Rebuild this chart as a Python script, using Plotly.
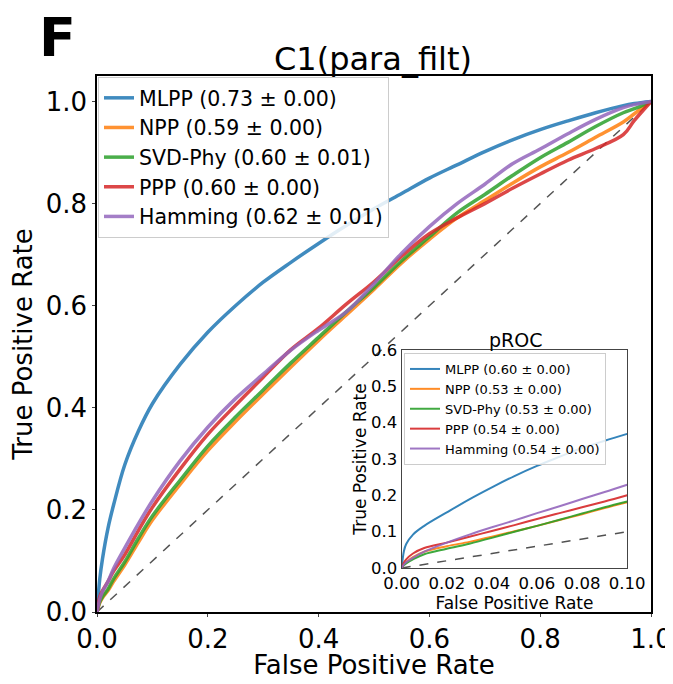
import plotly.graph_objects as go

# main ROC
fpr = [0, 0.005, 0.01, 0.02, 0.03, 0.05, 0.075, 0.1, 0.15, 0.2, 0.25, 0.3, 0.35, 0.4, 0.45, 0.5,
       0.55, 0.6, 0.65, 0.7, 0.75, 0.8, 0.85, 0.9, 0.95, 0.97, 1.0]
tpr_mlpp = [0, 0.065, 0.105, 0.165, 0.21, 0.288, 0.355, 0.408, 0.485, 0.548, 0.60, 0.646, 0.685, 0.722,
            0.757, 0.790, 0.820, 0.850, 0.876, 0.902, 0.925, 0.945, 0.962, 0.978, 0.992, 0.996, 1.0]
tpr_npp = [0, 0.018, 0.028, 0.042, 0.06, 0.092, 0.137, 0.18, 0.25, 0.316, 0.373, 0.427, 0.48, 0.532,
           0.582, 0.632, 0.684, 0.73, 0.772, 0.806, 0.840, 0.872, 0.900, 0.930, 0.960, 0.976, 1.0]
tpr_svd = [0, 0.02, 0.03, 0.045, 0.065, 0.098, 0.145, 0.188, 0.258, 0.325, 0.382, 0.435, 0.488, 0.538,
           0.588, 0.636, 0.688, 0.735, 0.782, 0.818, 0.855, 0.890, 0.920, 0.951, 0.978, 0.986, 1.0]
tpr_ppp = [0, 0.03, 0.042, 0.06, 0.08, 0.112, 0.16, 0.205, 0.28, 0.348, 0.405, 0.46, 0.514, 0.556,
           0.603, 0.647, 0.697, 0.741, 0.772, 0.800, 0.830, 0.858, 0.885, 0.908, 0.935, 0.963, 1.0]
tpr_ham = [0, 0.025, 0.04, 0.06, 0.085, 0.125, 0.173, 0.218, 0.296, 0.362, 0.418, 0.466, 0.513, 0.552,
           0.588, 0.643, 0.703, 0.755, 0.800, 0.838, 0.878, 0.907, 0.937, 0.965, 0.988, 0.994, 1.0]

# partial ROC (fpr <= 0.1)
p_fpr = [0, 0.001, 0.002, 0.005, 0.01, 0.02, 0.03, 0.04, 0.05, 0.06, 0.07, 0.08, 0.09, 0.1]
p_mlpp = [0, 0.047, 0.066, 0.092, 0.116, 0.153, 0.189, 0.222, 0.253, 0.281, 0.306, 0.330, 0.350, 0.369]
p_npp = [0, 0.01, 0.016, 0.03, 0.045, 0.06, 0.072, 0.086, 0.101, 0.116, 0.132, 0.148, 0.165, 0.181]
p_svd = [0, 0.008, 0.013, 0.024, 0.038, 0.053, 0.067, 0.083, 0.100, 0.116, 0.133, 0.150, 0.167, 0.183]
p_ppp = [0, 0.015, 0.024, 0.04, 0.055, 0.07, 0.086, 0.102, 0.118, 0.135, 0.151, 0.167, 0.183, 0.2]
p_ham = [0, 0.01, 0.016, 0.028, 0.045, 0.07, 0.092, 0.112, 0.131, 0.151, 0.170, 0.190, 0.209, 0.229]

names = ['MLPP', 'NPP', 'SVD-Phy', 'PPP', 'Hamming']
auc_labels = ['0.73 ± 0.00', '0.59 ± 0.00', '0.60 ± 0.01', '0.60 ± 0.00', '0.62 ± 0.01']
pauc_labels = ['0.60 ± 0.00', '0.53 ± 0.00', '0.53 ± 0.00', '0.54 ± 0.00', '0.54 ± 0.00']
colors = ['#1f77b4', '#ff7f0e', '#2ca02c', '#d62728', '#9467bd']

main_tpr = [tpr_mlpp, tpr_npp, tpr_svd, tpr_ppp, tpr_ham]
part_tpr = [p_mlpp, p_npp, p_svd, p_ppp, p_ham]

FONT = 'DejaVu Sans, sans-serif'

fig = go.Figure()

fig.add_trace(go.Scatter(x=[0, 1], y=[0, 1], mode='lines', showlegend=False,
                         line=dict(color='#555555', width=1.5, dash='dash')))
for name, lab, col, tpr in zip(names, auc_labels, colors, main_tpr):
    fig.add_trace(go.Scatter(x=fpr, y=tpr, mode='lines', name=f'{name} ({lab})',
                             line=dict(color=col, width=3.5, shape='spline', smoothing=1.0),
                             opacity=0.85, legend='legend'))

fig.add_trace(go.Scatter(x=[0, 0.1], y=[0, 0.1], mode='lines', showlegend=False,
                         xaxis='x2', yaxis='y2',
                         line=dict(color='#555555', width=1.5, dash='dash')))
for name, lab, col, tpr in zip(names, pauc_labels, colors, part_tpr):
    fig.add_trace(go.Scatter(x=p_fpr, y=tpr, mode='lines', name=f'{name} ({lab})',
                             xaxis='x2', yaxis='y2',
                             line=dict(color=col, width=2, shape='spline', smoothing=1.0),
                             opacity=0.9, legend='legend2'))


# screen pixel -> paper helpers (plot area sits at 97..651 x 76..612 on screen)
def px_x(p):
    return (p - 97) / 554


def px_y(p):
    return (612 - p) / 536


# the page body adds an 8px margin, so the figure is a bit smaller than the window
fig.update_layout(
    width=665, height=672,
    margin=dict(l=89, r=22, t=68, b=68),
    paper_bgcolor='white', plot_bgcolor='white',
    font=dict(family=FONT, color='black'),
    xaxis=dict(range=[0, 1], tickvals=[0, 0.2, 0.4, 0.6, 0.8, 1.0], tickformat='.1f',
               showgrid=False, zeroline=False, showline=True, mirror=True, automargin=False,
               linecolor='black', linewidth=1.5, ticks='outside', ticklen=3,
               tickfont=dict(size=26),
               title=dict(text='False Positive Rate', font=dict(size=26), standoff=6)),
    yaxis=dict(range=[0, 1.05], tickvals=[0, 0.2, 0.4, 0.6, 0.8, 1.0], tickformat='.1f',
               showgrid=False, zeroline=False, showline=True, mirror=True, automargin=False,
               linecolor='black', linewidth=1.5, ticks='outside', ticklen=3,
               tickfont=dict(size=26),
               title=dict(text='True Positive Rate', font=dict(size=26), standoff=8)),
    xaxis2=dict(domain=[0.550, 0.957], anchor='y2', range=[0, 0.1],
                tickvals=[0, 0.02, 0.04, 0.06, 0.08, 0.1], tickformat='.2f',
                showgrid=False, zeroline=False, showline=True, mirror=True, automargin=False,
                linecolor='#444444', linewidth=1.2, ticks='', tickfont=dict(size=16.5),
                title=dict(text='False Positive Rate', font=dict(size=17), standoff=2)),
    yaxis2=dict(domain=[0.082, 0.489], anchor='x2', range=[0, 0.6],
                tickvals=[0, 0.1, 0.2, 0.3, 0.4, 0.5, 0.6], tickformat='.1f',
                showgrid=False, zeroline=False, showline=True, mirror=True, automargin=False,
                linecolor='#444444', linewidth=1.2, ticks='', tickfont=dict(size=16.5),
                title=dict(text='True Positive Rate', font=dict(size=17), standoff=0)),
    legend=dict(x=px_x(98), y=px_y(77), xanchor='left', yanchor='top',
                bgcolor='rgba(255,255,255,0.85)', bordercolor='#cccccc', borderwidth=1,
                font=dict(size=20.5)),
    legend2=dict(x=px_x(404), y=px_y(353), xanchor='left', yanchor='top',
                 bgcolor='rgba(255,255,255,0.85)', bordercolor='#cccccc', borderwidth=1,
                 font=dict(size=13)),
    annotations=[
        dict(text='<b>F</b>', x=px_x(57), y=px_y(37), xref='paper', yref='paper',
             xanchor='center', yanchor='middle', showarrow=False, font=dict(size=54)),
        dict(text='C1(para_filt)', x=px_x(373), y=px_y(59), xref='paper', yref='paper',
             xanchor='center', yanchor='middle', showarrow=False, font=dict(size=32)),
        dict(text='pROC', x=px_x(515), y=px_y(340), xref='paper', yref='paper',
             xanchor='center', yanchor='middle', showarrow=False, font=dict(size=19)),
    ],
)

fig.write_html("out.html")
